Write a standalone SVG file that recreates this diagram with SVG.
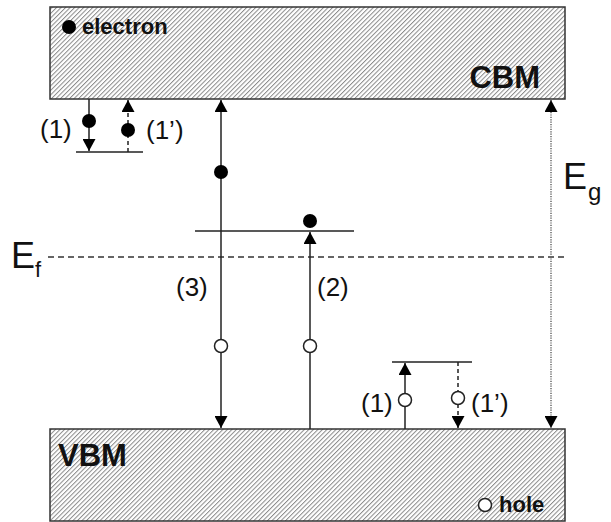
<svg xmlns="http://www.w3.org/2000/svg" width="611" height="522" viewBox="0 0 611 522">
<style>
.lbl{font-family:"Liberation Sans",Arial,sans-serif;fill:#111;}
.band{fill:url(#hatch);stroke:#333;stroke-width:1.5;}
.ln{stroke:#222;stroke-width:1.5;fill:none;}
.dash{stroke:#222;stroke-width:1.5;fill:none;stroke-dasharray:4 3;}
.ef{stroke:#333;stroke-width:1.3;fill:none;stroke-dasharray:6 4;}
.dot{stroke:#666;stroke-width:1.5;fill:none;stroke-dasharray:1.2 1.2;}
.e{fill:#000;}
.h{fill:#fff;stroke:#222;stroke-width:1.5;}
.num{font-size:26px;}
</style>
<defs>
<pattern id="hatch" patternUnits="userSpaceOnUse" width="3.2" height="3.2" patternTransform="rotate(45)">
<rect width="3.2" height="3.2" fill="#fff"/>
<line x1="0.5" y1="0" x2="0.5" y2="3.2" stroke="#8a8a8a" stroke-width="1"/>
</pattern>
<marker id="ah" viewBox="0 0 12 13" refX="12" refY="6.5" markerWidth="12" markerHeight="13" markerUnits="userSpaceOnUse" orient="auto-start-reverse">
<path d="M0,0 L12,6.5 L0,13 Z" fill="#000"/>
</marker>
</defs>

<g id="cbm">
<rect class="band" x="50" y="7" width="515" height="92"/>
<circle class="e" cx="69" cy="27" r="7"/>
<text class="lbl" x="82" y="34" font-size="22" font-weight="bold">electron</text>
<text class="lbl" x="540" y="88" font-size="31" font-weight="bold" text-anchor="end">CBM</text>
</g>

<g id="vbm">
<rect class="band" x="50" y="429" width="515" height="92"/>
<text class="lbl" x="58" y="466" font-size="31" font-weight="bold">VBM</text>
<circle class="h" cx="485" cy="505" r="6.5"/>
<text class="lbl" x="499" y="512" font-size="22" font-weight="bold">hole</text>
</g>

<g id="fermi-level">
<line class="ef" x1="48" y1="257" x2="565" y2="257"/>
<text class="lbl" x="11" y="268" font-size="36">E</text>
<text class="lbl" x="35" y="277" font-size="22">f</text>
</g>

<g id="band-gap">
<text class="lbl" x="563" y="189" font-size="36">E</text>
<text class="lbl" x="588" y="200" font-size="24">g</text>
</g>

<g id="connectors">
<line class="dot" x1="551" y1="100" x2="551" y2="428" marker-start="url(#ah)" marker-end="url(#ah)"/>
<line class="ln" x1="76" y1="152" x2="143" y2="152"/>
<line class="ln" x1="89" y1="99" x2="89" y2="151" marker-end="url(#ah)"/>
<line class="dash" x1="128" y1="152" x2="128" y2="100" marker-end="url(#ah)"/>
<line class="ln" x1="195" y1="231" x2="354" y2="231"/>
<line class="ln" x1="221" y1="100" x2="221" y2="428" marker-start="url(#ah)" marker-end="url(#ah)"/>
<line class="ln" x1="310" y1="429" x2="310" y2="232" marker-end="url(#ah)"/>
<line class="ln" x1="392" y1="362" x2="472" y2="362"/>
<line class="ln" x1="405" y1="429" x2="405" y2="363" marker-end="url(#ah)"/>
<line class="dash" x1="458" y1="362" x2="458" y2="428" marker-end="url(#ah)"/>
</g>

<g id="transition-1-cb">
<circle class="e" cx="89" cy="121" r="7"/>
<text class="lbl num" x="40" y="138">(1)</text>
</g>
<g id="transition-1p-cb">
<circle class="e" cx="128" cy="130" r="7"/>
<text class="lbl num" x="146" y="139">(1’)</text>
</g>
<g id="transition-3">
<circle class="e" cx="221" cy="172" r="7"/>
<circle class="h" cx="221" cy="346" r="6.5"/>
<text class="lbl num" x="176" y="296">(3)</text>
</g>
<g id="transition-2">
<circle class="e" cx="310" cy="221" r="7"/>
<circle class="h" cx="310" cy="346" r="6.5"/>
<text class="lbl num" x="317" y="296">(2)</text>
</g>
<g id="transition-1-vb">
<circle class="h" cx="405" cy="400" r="6.5"/>
<text class="lbl num" x="361" y="412">(1)</text>
</g>
<g id="transition-1p-vb">
<circle class="h" cx="458" cy="398" r="6.5"/>
<text class="lbl num" x="471" y="412">(1’)</text>
</g>
</svg>
